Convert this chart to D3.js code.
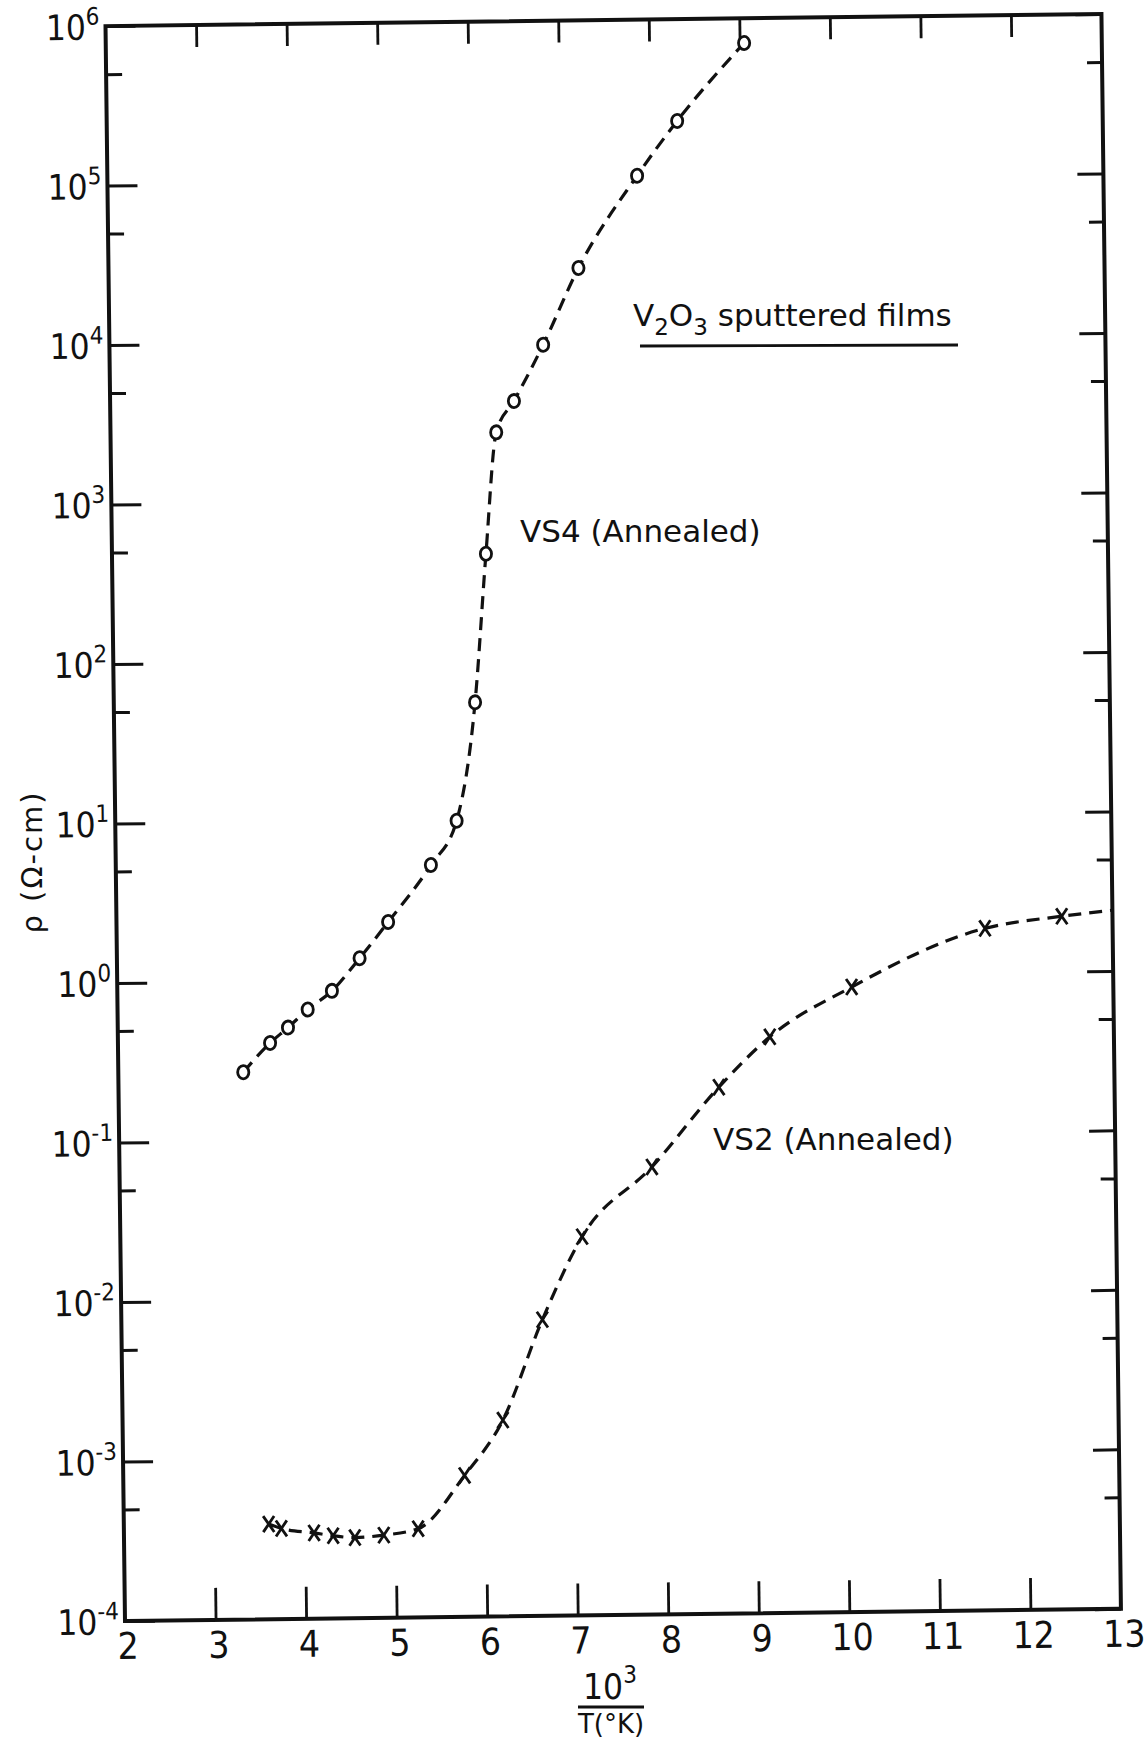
<!doctype html>
<html lang="en">
  <head>
    <meta charset="utf-8">
    <title>V2O3 sputtered films - resistivity vs 1000/T</title>
    <style>
      * { margin: 0; padding: 0; }
      body { background: #fff; overflow: hidden; }
      svg { display: block; }
      text { fill: #111; }
      .narrow { font-family: "Liberation Sans Narrow", "DejaVu Sans Condensed", "DejaVu Sans", sans-serif; }
      .label { font-family: "DejaVu Sans", "Liberation Sans", sans-serif; }
    </style>
    <script src="https://cdn.jsdelivr.net/npm/d3@7"></script>
  </head>

  <body>
    <svg id="chart" width="1148" height="1739"></svg>

    <script>
      // x axis: 10^3 / T(K)
      const xTickLabels = [2, 3, 4, 5, 6, 7, 8, 9, 10, 11, 12, 13];
      const xInnerTicks = [3, 4, 5, 6, 7, 8, 9, 10, 11, 12];

      // y axis: rho (ohm-cm), log decades and the 5x minor marks
      const yExponents = [-4, -3, -2, -1, 0, 1, 2, 3, 4, 5, 6];
      const yMinorTicks = [5e-4, 5e-3, 5e-2, 5e-1, 5, 50, 500, 5e3, 5e4, 5e5];

      // VS4 (Annealed) - open circles
      const vs4X   = [3.38, 3.68, 3.88, 4.10, 4.37, 4.68, 5.00, 5.48, 5.77, 5.99, 6.13, 6.26, 6.46, 6.79, 7.19, 7.85, 8.30, 9.05];
      const vs4Rho = [0.27, 0.41, 0.51, 0.66, 0.86, 1.37, 2.3, 5.2, 9.8, 54, 460, 2650, 4150, 9300, 28000, 105000, 230000, 700000];

      // VS2 (Annealed) - crosses
      const vs2X   = [3.60, 3.74, 4.10, 4.31, 4.55, 4.87, 5.25, 5.77, 6.20, 6.65, 7.10, 7.88, 8.63, 9.20, 10.11, 11.59, 12.44];
      const vs2Rho = [3.95e-4, 3.7e-4, 3.45e-4, 3.3e-4, 3.2e-4, 3.3e-4, 3.6e-4, 7.7e-4, 1.7e-3, 7.2e-3, 2.37e-2, 6.4e-2, 0.20, 0.41, 0.83, 1.89, 2.22];
      // the dashed VS2 curve runs on to the right frame
      const vs2TailX   = [13];
      const vs2TailRho = [2.4];

      const W = 996, H = 1595;
      const origin = { x: 125, y: 1621 };   // bottom-left corner of the frame
      const tilt = -0.7;                     // the scanned sheet sits slightly askew

      const x = d3.scaleLinear().domain([2, 13]).range([0, W]);
      const y = d3.scaleLog().domain([1e-4, 1e6]).range([H, 0]);

      const svg = d3.select("#chart");
      svg.append("rect").attr("width", 1148).attr("height", 1739).attr("fill", "#fff");

      const plot = svg.append("g")
        .attr("transform", `translate(${origin.x},${origin.y}) rotate(${tilt}) translate(0,${-H})`);

      function plainTicks(g, width) {
        g.select(".domain").remove();
        g.selectAll(".tick line").attr("stroke", "#111").attr("stroke-width", width);
        g.selectAll(".tick text").remove();
      }

      // inward ticks on all four sides
      plot.append("g").attr("transform", `translate(0,${H})`)
        .call(d3.axisBottom(x).tickValues(xInnerTicks).tickSize(-32).tickFormat(""))
        .call(plainTicks, 2.8);
      plot.append("g")
        .call(d3.axisTop(x).tickValues(xInnerTicks).tickSize(-22).tickFormat(""))
        .call(plainTicks, 2.8);

      const decades = yExponents.map(e => Math.pow(10, e));
      plot.append("g")
        .call(d3.axisLeft(y).tickValues(decades).tickSize(-30).tickFormat(""))
        .call(plainTicks, 3);
      plot.append("g")
        .call(d3.axisLeft(y).tickValues(yMinorTicks).tickSize(-16).tickFormat(""))
        .call(plainTicks, 3);
      plot.append("g").attr("transform", `translate(${W},0)`)
        .call(d3.axisRight(y).tickValues(decades).tickSize(-26).tickFormat(""))
        .call(plainTicks, 3);
      plot.append("g").attr("transform", `translate(${W},0)`)
        .call(d3.axisRight(y).tickValues(yMinorTicks).tickSize(-15).tickFormat(""))
        .call(plainTicks, 3);

      // frame
      plot.append("rect")
        .attr("width", W).attr("height", H)
        .attr("fill", "none").attr("stroke", "#111").attr("stroke-width", 4);

      // x tick labels
      plot.append("g").selectAll("text")
        .data(xTickLabels)
        .join("text")
          .attr("class", "narrow")
          .attr("x", d => x(d) + 3)
          .attr("y", H + 38)
          .attr("text-anchor", "middle")
          .attr("font-size", 37)
          .text(d => d);

      // y tick labels: 10 with a raised exponent
      const yl = plot.append("g").selectAll("text")
        .data(yExponents)
        .join("text")
          .attr("class", "narrow")
          .attr("x", -6)
          .attr("y", d => y(Math.pow(10, d)))
          .attr("dy", "0.38em")
          .attr("text-anchor", "end")
          .attr("font-size", 35);
      yl.append("tspan").text("10");
      yl.append("tspan").attr("dy", -15).attr("font-size", 24).text(d => d);

      // curves
      const line = d3.line()
        .x(d => x(d[0]))
        .y(d => y(d[1]))
        .curve(d3.curveMonotoneX);

      const vs4 = vs4X.map((v, i) => [v, vs4Rho[i]]);
      const vs2 = vs2X.map((v, i) => [v, vs2Rho[i]]);
      const vs2Curve = vs2.concat(vs2TailX.map((v, i) => [v, vs2TailRho[i]]));

      plot.append("path")
        .attr("d", line(vs4))
        .attr("fill", "none").attr("stroke", "#111")
        .attr("stroke-width", 3.2).attr("stroke-dasharray", "13,8");
      plot.append("path")
        .attr("d", line(vs2Curve))
        .attr("fill", "none").attr("stroke", "#111")
        .attr("stroke-width", 3.2).attr("stroke-dasharray", "13,8");

      // markers
      plot.append("g").selectAll("ellipse")
        .data(vs4)
        .join("ellipse")
          .attr("cx", d => x(d[0]))
          .attr("cy", d => y(d[1]))
          .attr("rx", 5.6).attr("ry", 6.6)
          .attr("fill", "#fff").attr("stroke", "#111").attr("stroke-width", 2.8);

      plot.append("g").selectAll("path")
        .data(vs2)
        .join("path")
          .attr("transform", d => `translate(${x(d[0])},${y(d[1])})`)
          .attr("d", "M-5.5,-8L5.5,8M5.5,-8L-5.5,8")
          .attr("fill", "none").attr("stroke", "#111").attr("stroke-width", 2.8);

      // annotations
      const title = svg.append("text")
        .attr("class", "label")
        .attr("x", 633).attr("y", 326)
        .attr("font-size", 31);
      title.append("tspan").text("V");
      title.append("tspan").attr("dy", 9).attr("font-size", 23).text("2");
      title.append("tspan").attr("dy", -9).text("O");
      title.append("tspan").attr("dy", 9).attr("font-size", 23).text("3");
      title.append("tspan").attr("dy", -9).text(" sputtered films");
      svg.append("line")
        .attr("x1", 640).attr("x2", 958).attr("y1", 346).attr("y2", 345)
        .attr("stroke", "#111").attr("stroke-width", 2.8);

      svg.append("text").attr("class", "label")
        .attr("x", 520).attr("y", 542).attr("font-size", 31)
        .text("VS4 (Annealed)");
      svg.append("text").attr("class", "label")
        .attr("x", 713).attr("y", 1150).attr("font-size", 31)
        .text("VS2 (Annealed)");

      // axis titles
      svg.append("text").attr("class", "label")
        .attr("transform", "translate(42,862) rotate(-90)")
        .attr("text-anchor", "middle")
        .attr("font-size", 29)
        .attr("letter-spacing", 2)
        .text("\u03c1 (\u03a9-cm)");

      const xt = svg.append("text").attr("class", "narrow")
        .attr("x", 610).attr("y", 1699)
        .attr("text-anchor", "middle")
        .attr("font-size", 35);
      xt.append("tspan").text("10");
      xt.append("tspan").attr("dy", -16).attr("font-size", 24).text("3");
      svg.append("line")
        .attr("x1", 578).attr("x2", 644).attr("y1", 1707).attr("y2", 1707)
        .attr("stroke", "#111").attr("stroke-width", 2.8);
      svg.append("text").attr("class", "label")
        .attr("x", 611).attr("y", 1733)
        .attr("text-anchor", "middle")
        .attr("font-size", 26)
        .text("T(\u00b0K)");
    </script>
  </body>
</html>
